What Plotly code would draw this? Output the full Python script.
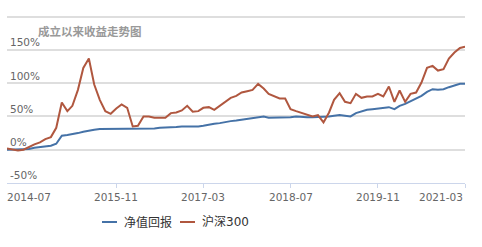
import plotly.graph_objects as go
import pandas as pd

# ---- data ----
dates = pd.date_range("2014-03-01", "2021-03-01", freq="MS").strftime("%Y-%m-%d").tolist()

fund_return = [0, 0, 0, 0, 1, 3, 4, 5, 6, 9,
               21, 22, 23, 25, 27, 29, 30, 31, 31, 31,
               31, 31, 31, 32, 32, 32, 32, 32, 33, 33,
               34, 34, 35, 35, 34, 35, 36, 38, 39, 40,
               42, 43, 44, 45, 46, 47, 49, 50, 48, 48,
               48, 49, 49, 50, 49, 49, 49, 49, 49, 50,
               51, 52, 51, 50, 55, 58, 60, 61, 62, 63,
               64, 61, 66, 69, 73, 77, 81, 87, 91, 90,
               91, 94, 96, 99, 99]

hs300_return = [2, 1, -1, 0, 4, 8, 11, 16, 19, 33,
                71, 58, 66, 90, 123, 137, 98, 75, 58, 54,
                62, 68, 63, 35, 36, 50, 50, 48, 48, 48,
                55, 56, 59, 66, 57, 58, 63, 64, 60, 66,
                71, 78, 81, 86, 88, 90, 99, 92, 84, 81,
                77, 77, 61, 58, 55, 53, 50, 52, 41, 56,
                75, 85, 72, 70, 84, 78, 80, 80, 84, 80,
                95, 72, 89, 72, 84, 86, 101, 123, 126, 119,
                121, 137, 146, 153, 155]

series_names = ["净值回报", "沪深300"]
series_colors = ["#4572A7", "#B0573F"]

y_tick_vals = [-50, 0, 50, 100, 150, 200]
y_tick_text = ["-50%", "0%", "50%", "100%", "150%", ""]

x_tick_vals = ["2014-07-01", "2015-11-01", "2017-03-01", "2018-07-01", "2019-11-01", "2021-03-01"]
x_tick_text = ["2014-07", "2015-11", "2017-03", "2018-07", "2019-11", "2021-03"]

title_text = "成立以来收益走势图"

FONT = "DejaVu Sans, Noto Sans CJK SC, sans-serif"
GRID = "#dedede"

fig = go.Figure()
for name, vals, col in zip(series_names, [fund_return, hs300_return], series_colors):
    fig.add_trace(go.Scatter(x=dates, y=vals, mode="lines", name=name,
                             line=dict(color=col, width=2), showlegend=False))

fig.update_layout(
    width=482, height=247,
    margin=dict(l=7, r=17, t=10, b=64),
    paper_bgcolor="white", plot_bgcolor="white",
    font=dict(family=FONT, size=10.5, color="#666666"),
    xaxis=dict(
        type="date", range=["2014-03-01", "2021-03-01"],
        tickvals=x_tick_vals, ticktext=["" for _ in x_tick_text],
        showgrid=False, showline=True, linecolor="#ccd6eb", linewidth=1,
        ticks="outside", ticklen=4, tickcolor="#ccd6eb",
        zeroline=False,
    ),
    yaxis=dict(
        range=[-50, 210], tickvals=y_tick_vals, ticktext=y_tick_text,
        ticklabelposition="inside top",
        showgrid=True, gridcolor=GRID, gridwidth=2,
        zeroline=False, showline=False, ticks="",
        tickfont=dict(size=10.5, color="#666666"),
    ),
)

# x tick labels (last kept inside the plot width, like the original)
n = len(x_tick_vals)
for i, (v, t) in enumerate(zip(x_tick_vals, x_tick_text)):
    anchor = "right" if i == n - 1 else "center"
    fig.add_annotation(x=v, y=0, xref="x", yref="paper", yshift=-6,
                       text=t, showarrow=False, xanchor=anchor, yanchor="top",
                       font=dict(family=FONT, size=10.5, color="#666666"))

W, H = 482, 247
ML, MR, MT, MB = 7, 17, 10, 64
pw = W - ML - MR
ph = H - MT - MB


def px(xp):
    return (xp - ML) / pw


def py(yp):
    return ((H - yp) - MB) / ph


# title
fig.add_annotation(x=px(36), y=py(32), xref="paper", yref="paper", text="<b>" + title_text + "</b>",
                   showarrow=False, xanchor="left", yanchor="middle",
                   font=dict(family=FONT, size=11.5, color="#999999"))

# custom legend
legend_x = [102, 180]
for name, col, lx in zip(series_names, series_colors, legend_x):
    fig.add_shape(type="line", xref="paper", yref="paper",
                  x0=px(lx), x1=px(lx + 15), y0=py(222), y1=py(222),
                  line=dict(color=col, width=2))
    fig.add_annotation(xref="paper", yref="paper", x=px(lx + 20), y=py(222), text=name,
                       showarrow=False, xanchor="left", yanchor="middle",
                       font=dict(family=FONT, size=12, color="#333333"))

fig.write_html("out.html")
